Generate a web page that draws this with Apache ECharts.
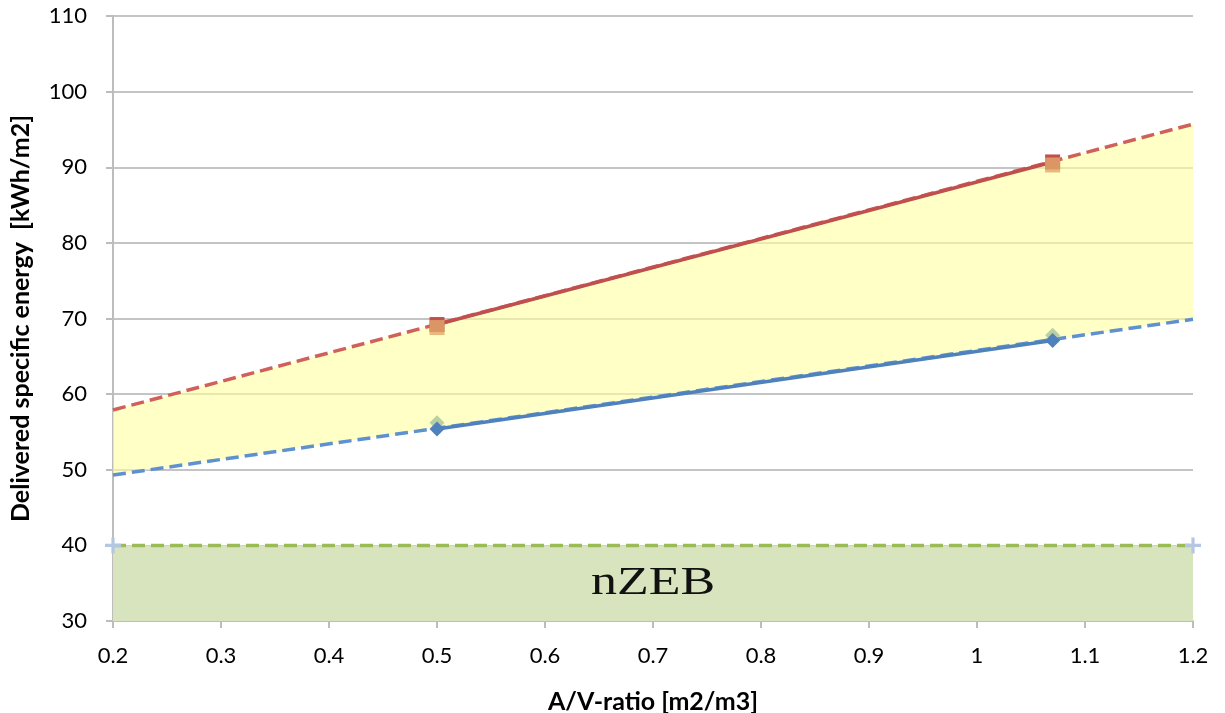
<!DOCTYPE html>
<html><head><meta charset="utf-8">
<script src="https://cdn.jsdelivr.net/npm/echarts@6/dist/echarts.min.js"></script>
<style>html,body{margin:0;padding:0;background:#fff}#c{width:1225px;height:713px}</style>
</head><body><div id="c"></div>
<script>
// Measured points (x = A/V ratio, y = delivered specific energy)
const redX = [0.5, 1.07];
const redY = [69.2, 90.7];
const orangeY = [68.8, 90.3];
const blueX = [0.5, 1.07];
const blueY = [55.4, 67.1];
const greenY = [56.2, 67.8];
// Trend lines (at x = 0.2 and 1.2)
const trendX = [0.2, 1.2];
const redTrendY = [57.9, 95.7];
const blueTrendY = [49.3, 69.9];
// nZEB limit
const nzebY = [40, 40];
const nzebLabelPos = [0.7, 34.9];
const nzebLabel = 'nZEB';

const pts = (xs, ys) => xs.map((x, i) => [x, ys[i]]);

const font = 'Lato';
const chart = echarts.init(document.getElementById('c'));
chart.setOption({
  animation: false,
  grid: { left: 113, right: 32, top: 16, bottom: 92, containLabel: false, outerBoundsMode: 'none' },
  xAxis: {
    type: 'value', min: 0.2, max: 1.2, interval: 0.1,
    name: 'A/V-ratio [m2/m3]', nameLocation: 'middle', nameGap: 68,
    nameTextStyle: { fontFamily: font, fontWeight: 'bold', fontSize: 25, color: '#000' },
    axisLine: { lineStyle: { color: '#bdbdbd', width: 2 } },
    axisTick: { show: true, length: 7, lineStyle: { color: '#bdbdbd', width: 2 } },
    axisLabel: { fontFamily: font, fontSize: 22, color: '#000', margin: 24,
      formatter: v => String(Math.round(v * 10) / 10) },
    splitLine: { show: false }
  },
  yAxis: {
    type: 'value', min: 30, max: 110, interval: 10,
    name: 'Delivered specific energy  [kWh/m2]', nameLocation: 'middle', nameGap: 80,
    nameTextStyle: { fontFamily: font, fontWeight: 'bold', fontSize: 25, color: '#000' },
    axisLine: { show: true, lineStyle: { color: '#bdbdbd', width: 2 } },
    axisTick: { show: true, length: 7, lineStyle: { color: '#bdbdbd', width: 2 } },
    axisLabel: { fontFamily: font, fontSize: 22, color: '#000', margin: 26 },
    splitLine: { lineStyle: { color: '#c4c4c4', width: 2 } }
  },
  series: [
    { type: 'line', data: pts(trendX, nzebY), symbol: 'none', silent: true,
      lineStyle: { width: 0 }, areaStyle: { origin: 'start', color: '#d7e4bd', opacity: 1 }, z: 1 },
    { type: 'custom', silent: true, z: 1, data: [0],
      renderItem: (params, api) => {
        const top = trendX.map((x, i) => api.coord([x, redTrendY[i]]));
        const bot = trendX.map((x, i) => api.coord([x, blueTrendY[i]])).reverse();
        return { type: 'polygon', shape: { points: top.concat(bot) },
          style: { fill: 'rgba(255,255,160,0.6)' } };
      } },
    { type: 'line', data: pts(trendX, nzebY), symbol: 'path://M-1,-0.2H1V0.2H-1Z M-0.2,-1H0.2V1H-0.2Z', symbolSize: 16,
      itemStyle: { color: '#b3c7e3' }, showAllSymbol: true,
      lineStyle: { color: '#9bbb59', width: 3.5, type: [13, 6] }, z: 3 },
    { type: 'line', data: pts(trendX, redTrendY), symbol: 'none',
      lineStyle: { color: '#d0605a', width: 3.5, type: [13, 6] }, z: 3 },
    { type: 'line', data: pts(trendX, blueTrendY), symbol: 'none',
      lineStyle: { color: '#5d91cf', width: 3.5, type: [13, 6] }, z: 3 },
    { type: 'line', data: pts(redX, redY), symbol: 'rect', symbolSize: 15,
      itemStyle: { color: '#c0504d' }, lineStyle: { color: '#c0504d', width: 3.5 }, z: 4 },
    { type: 'scatter', data: pts(redX, orangeY), symbol: 'rect', symbolSize: 15,
      itemStyle: { color: '#e2a86c' }, z: 5 },
    { type: 'scatter', data: pts(blueX, greenY), symbol: 'diamond', symbolSize: 15,
      itemStyle: { color: '#a9c49a' }, z: 4 },
    { type: 'line', data: pts(blueX, blueY), symbol: 'diamond', symbolSize: 15,
      itemStyle: { color: '#4f81bd' }, lineStyle: { color: '#4f81bd', width: 3.5 }, z: 6 },
    { type: 'custom', silent: true, z: 7, data: [nzebLabelPos],
      renderItem: (params, api) => {
        const p = api.coord([api.value(0), api.value(1)]);
        return { type: 'text', x: p[0], y: p[1], scaleX: 1.3,
          style: { text: nzebLabel, fontFamily: 'Liberation Serif', fontSize: 40,
            fill: '#111', align: 'center', verticalAlign: 'middle' } };
      } }
  ]
});
</script></body></html>
